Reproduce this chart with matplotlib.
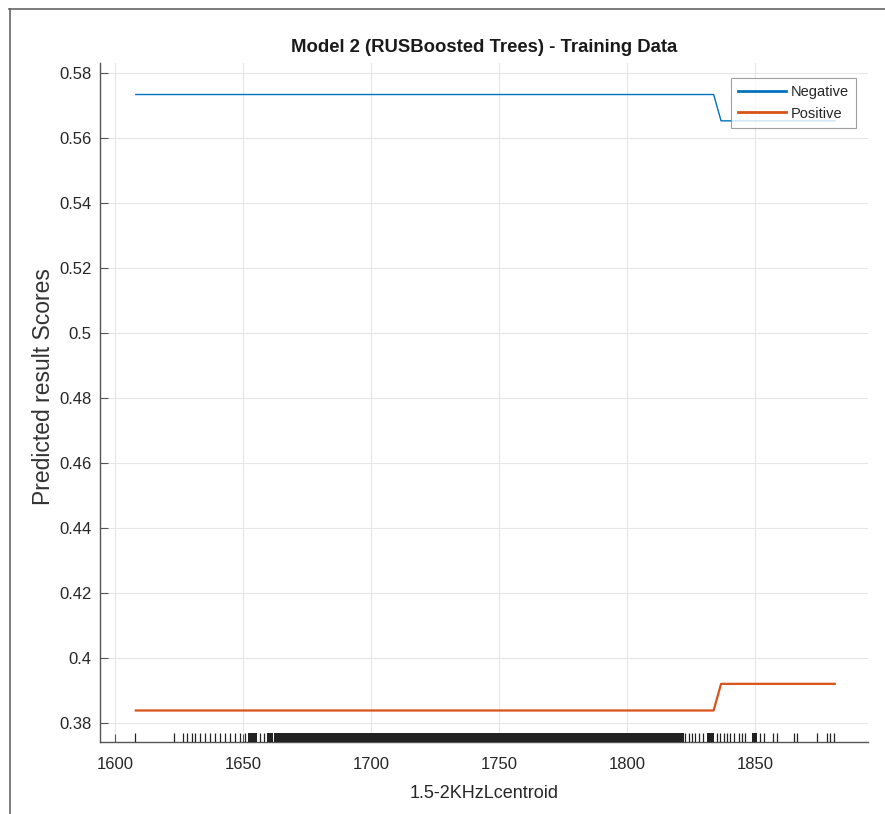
import matplotlib
matplotlib.use("Agg")
import matplotlib.pyplot as plt
from matplotlib.lines import Line2D

plt.rcParams['font.family'] = ['Liberation Sans', 'DejaVu Sans']

# ---- data ----
neg_x = [1608, 1833.7, 1836.6, 1881]
neg_y = [0.5733, 0.5733, 0.5652, 0.5652]
pos_x = [1608, 1833.7, 1836.6, 1881]
pos_y = [0.3837, 0.3837, 0.3919, 0.3919]

# individual rug marks (observed feature values)
rug_single = [1607.8, 1622.8, 1626.4, 1628.0, 1629.9, 1631.3, 1633.2, 1635.2,
              1637.1, 1639.1, 1641.0, 1643.0, 1644.9, 1646.9, 1648.8, 1650.8,
              1656.6, 1657.9,
              1822.7, 1824.0, 1825.3, 1826.6, 1827.9, 1829.6, 1835.0, 1836.3,
              1837.6, 1838.9, 1840.2, 1841.5, 1843.5, 1844.8, 1846.1, 1852.0,
              1853.3, 1856.9, 1858.5, 1865.0, 1866.3, 1874.1, 1878.0, 1879.3,
              1880.9]
# densely packed rug regions (start, end)
rug_dense_start = [1651.7, 1659.2, 1661.8, 1831.1, 1848.7]
rug_dense_end = [1655.3, 1661.6, 1822.0, 1833.7, 1850.7]

xticks = [1600, 1650, 1700, 1750, 1800, 1850]
yticks = [0.38, 0.40, 0.42, 0.44, 0.46, 0.48, 0.50, 0.52, 0.54, 0.56, 0.58]
ytick_labels = ['0.38', '0.4', '0.42', '0.44', '0.46', '0.48', '0.5', '0.52', '0.54', '0.56', '0.58']

blue = '#0072BD'
orange = '#D95319'
txt = '#262626'
axc = '#555555'

fig = plt.figure(figsize=(8.85, 8.14), dpi=100)
ax = fig.add_axes([100/885, 1 - 742/814, 768/885, 679/814])

ax.plot(neg_x, neg_y, color=blue, lw=1.0, zorder=3)
ax.plot(pos_x, pos_y, color=orange, lw=1.6, zorder=3)

trans = ax.get_xaxis_transform()
ax.vlines(rug_single, 0, 0.0135, transform=trans, color='#222222', lw=0.9, zorder=4)
for s, e in zip(rug_dense_start, rug_dense_end):
    ax.fill_between([s, e], [0, 0], [0.0135, 0.0135], transform=trans,
                    color='#222222', lw=0, zorder=4)

ax.set_xlim(1594, 1894)
ax.set_ylim(0.374, 0.583)
ax.set_xticks(xticks)
ax.set_yticks(yticks)
ax.set_yticklabels(ytick_labels)
ax.grid(True, color='#e6e6e6', lw=0.8)
ax.set_axisbelow(True)

for side in ['top', 'right']:
    ax.spines[side].set_visible(False)
for side in ['left', 'bottom']:
    ax.spines[side].set_color(axc)
    ax.spines[side].set_linewidth(1.0)

ax.tick_params(direction='in', length=6, width=0.8, color=axc, labelcolor=txt,
               labelsize=12)
ax.tick_params(axis='y', pad=6)
ax.tick_params(axis='x', pad=11)

ax.set_title('Model 2 (RUSBoosted Trees) - Training Data', fontsize=13.3,
             fontweight='bold', color='#1a1a1a', pad=8)
ax.set_xlabel('1.5-2KHzLcentroid', fontsize=13, color=txt, labelpad=9)
ax.set_ylabel('Predicted result Scores', fontsize=16.5, color='#333333')
ax.yaxis.set_label_coords(-45/768, 0.524)

handles = [Line2D([0], [0], color=blue, lw=2), Line2D([0], [0], color=orange, lw=2)]
leg = ax.legend(handles, ['Negative', 'Positive'], loc='upper right',
                bbox_to_anchor=(0.984, 0.978), borderaxespad=0, fontsize=10.5,
                frameon=True, fancybox=False, handlelength=3.3, handletextpad=0.3,
                borderpad=0.5, labelspacing=0.5)
leg.get_frame().set_edgecolor('#888888')
leg.get_frame().set_linewidth(0.8)
for t in leg.get_texts():
    t.set_color(txt)

# figure frame (top and left lines)
fig.add_artist(Line2D([9/885, 1], [1 - 9/814, 1 - 9/814], transform=fig.transFigure,
                      color='#666666', lw=1.2))
fig.add_artist(Line2D([9.5/885, 9.5/885], [0, 1 - 9/814], transform=fig.transFigure,
                      color='#666666', lw=1.2))

fig.savefig('out.png', dpi=100)
